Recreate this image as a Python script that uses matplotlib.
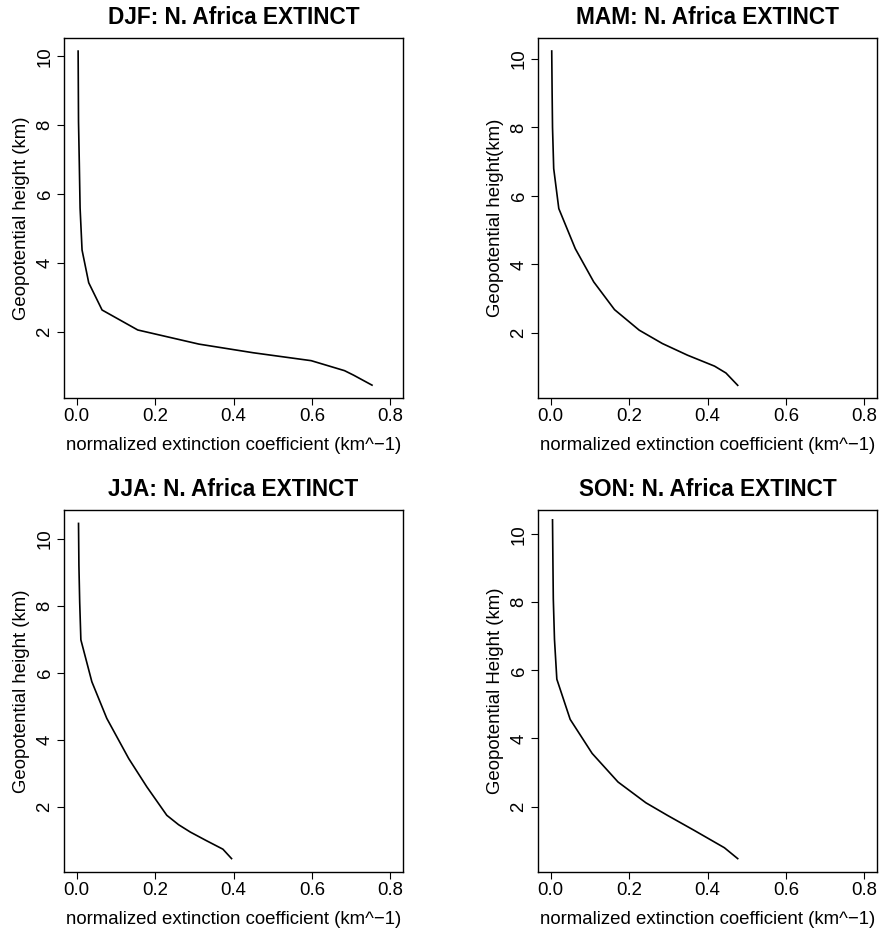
import matplotlib
matplotlib.use("Agg")
import matplotlib.pyplot as plt

plt.rcParams['font.family'] = ['Liberation Sans', 'DejaVu Sans']

# seasonal profiles: extinction coefficient vs geopotential height
djf_x = [0.753, 0.706, 0.683, 0.598, 0.450, 0.312, 0.156, 0.065, 0.031, 0.014, 0.009, 0.007, 0.005, 0.004]
djf_y = [0.46, 0.75, 0.88, 1.17, 1.40, 1.65, 2.06, 2.64, 3.43, 4.38, 5.60, 6.90, 8.10, 10.15]

mam_x = [0.477, 0.447, 0.418, 0.349, 0.285, 0.226, 0.163, 0.110, 0.063, 0.021, 0.008, 0.005, 0.004, 0.003]
mam_y = [0.47, 0.83, 1.03, 1.35, 1.69, 2.08, 2.68, 3.49, 4.46, 5.63, 6.80, 8.00, 9.00, 10.23]

jja_x = [0.395, 0.373, 0.330, 0.290, 0.260, 0.230, 0.179, 0.133, 0.077, 0.039, 0.011, 0.008, 0.006, 0.005]
jja_y = [0.46, 0.74, 1.00, 1.25, 1.47, 1.75, 2.60, 3.44, 4.64, 5.73, 6.98, 8.10, 9.20, 10.45]

son_x = [0.477, 0.443, 0.366, 0.298, 0.243, 0.172, 0.106, 0.050, 0.016, 0.010, 0.007, 0.006, 0.005]
son_y = [0.47, 0.79, 1.30, 1.74, 2.11, 2.72, 3.56, 4.56, 5.74, 6.91, 8.10, 9.20, 10.42]

titles = ["DJF: N. Africa EXTINCT", "MAM: N. Africa EXTINCT",
          "JJA: N. Africa EXTINCT", "SON: N. Africa EXTINCT"]
ylabels = ["Geopotential height (km)", "Geopotential height(km)",
           "Geopotential height (km)", "Geopotential Height (km)"]
xlabel = "normalized extinction coefficient (km^\u22121)"
xticks = [0.0, 0.2, 0.4, 0.6, 0.8]
yticks = [2, 4, 6, 8, 10]

profiles = [(djf_x, djf_y), (mam_x, mam_y), (jja_x, jja_y), (son_x, son_y)]

W, H = 880, 932
# axes boxes in pixels: left, right, top, bottom
boxes = [(64, 403, 38, 398), (538, 877, 38, 398),
         (64, 403, 510, 872), (538, 877, 510, 872)]
ylims = [(0.087, 10.53), (0.10, 10.61), (0.06, 10.85), (0.077, 10.71)]

fig = plt.figure(figsize=(W / 100, H / 100), dpi=100)

for i in range(4):
    l, r, t, b = boxes[i]
    ax = fig.add_axes([l / W, 1 - b / H, (r - l) / W, (b - t) / H])
    x, y = profiles[i]
    ax.plot(x, y, color="black", linewidth=1.2)
    ax.set_xlim(-0.032, 0.832)
    ax.set_ylim(*ylims[i])
    ax.set_xticks(xticks)
    ax.set_xticklabels(["%.1f" % v for v in xticks])
    ax.set_yticks(yticks)
    ax.set_yticklabels([str(v) for v in yticks], rotation=90, va="center")
    ax.tick_params(direction="out", length=5, width=0.8, labelsize=13.4, pad=2.5)
    for s in ax.spines.values():
        s.set_linewidth(1.0)
    ax.set_title(titles[i], fontsize=16.3, fontweight="bold", pad=10)
    ax.set_xlabel(xlabel, fontsize=13.4, labelpad=8)
    ax.set_ylabel(ylabels[i], fontsize=13.4, labelpad=5)

fig.savefig("out.png", dpi=100)
